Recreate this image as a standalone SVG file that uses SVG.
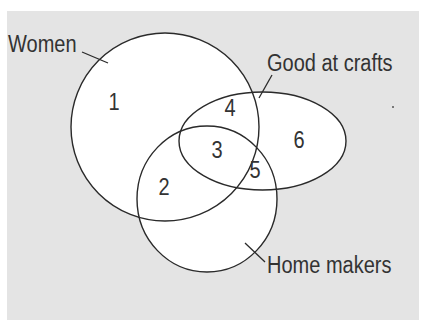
<svg xmlns="http://www.w3.org/2000/svg" width="425" height="320" viewBox="0 0 425 320">
<style>
.fill{fill:#ffffff;stroke:none}
.ring{fill:none;stroke:#2a2a2a;stroke-width:1.4}
.lead{stroke:#2a2a2a;stroke-width:1.3;fill:none}
.t{font-family:"Liberation Sans",Arial,sans-serif;font-size:20px;fill:#333333}
.n{font-family:"Liberation Sans",Arial,sans-serif;font-size:20px;fill:#333333;text-anchor:middle}
</style>
<rect x="0" y="0" width="425" height="320" fill="#ffffff"/>
<rect x="7" y="11" width="412" height="309" fill="#e4e4e4"/>
<g id="fills">
<circle class="fill" cx="165" cy="127" r="94"/>
<ellipse class="fill" cx="207" cy="199" rx="70" ry="73"/>
<ellipse class="fill" cx="262.5" cy="141" rx="83.5" ry="49"/>
</g>
<g id="women">
<circle class="ring" cx="165" cy="127" r="94"/>
<text class="t" transform="translate(8,52) scale(1,1.15)">Women</text>
</g>
<g id="home-makers">
<ellipse class="ring" cx="207" cy="199" rx="70" ry="73"/>
<text class="t" transform="translate(267,273) scale(1,1.15)">Home makers</text>
</g>
<g id="good-at-crafts">
<ellipse class="ring" cx="262.5" cy="141" rx="83.5" ry="49"/>
<text class="t" transform="translate(267,71) scale(1,1.15)">Good at crafts</text>
</g>
<g id="regions">
<text class="n" transform="translate(114,110) scale(1,1.15)">1</text>
<text class="n" transform="translate(164,195) scale(1,1.15)">2</text>
<text class="n" transform="translate(217,158) scale(1,1.15)">3</text>
<text class="n" transform="translate(230,116) scale(1,1.15)">4</text>
<text class="n" transform="translate(255,178) scale(1,1.15)">5</text>
<text class="n" transform="translate(299,148) scale(1,1.15)">6</text>
</g>
<g id="connectors">
<line class="lead" x1="82" y1="52" x2="108" y2="63"/>
<line class="lead" x1="272" y1="75" x2="259" y2="98"/>
<line class="lead" x1="245" y1="243" x2="265" y2="262"/>
</g>
<circle cx="393" cy="107" r="1" fill="#555555"/>
</svg>
